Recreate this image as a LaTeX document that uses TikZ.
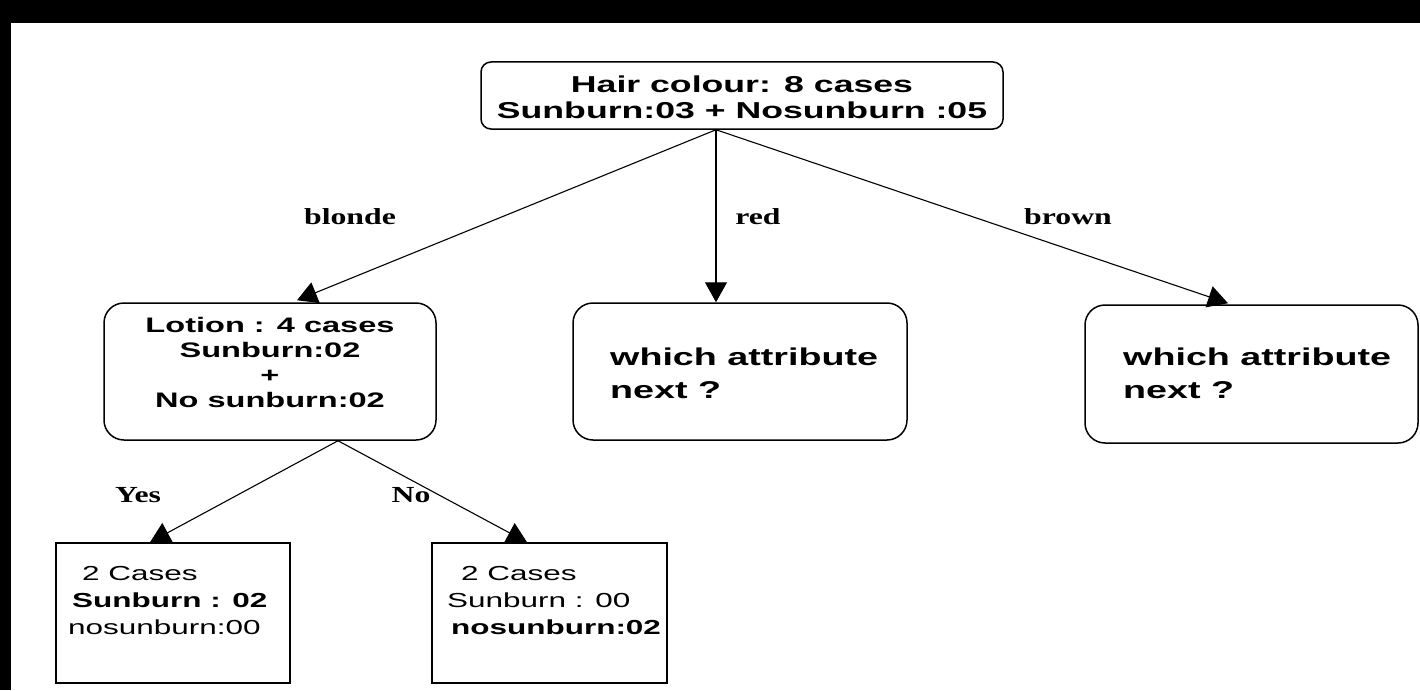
\documentclass[tikz,border=0pt]{standalone}
\usepackage{fontspec}
\setmainfont{Liberation Sans}
% wide sans for the box texts, wide serif for the branch labels
\newfontfamily\boxfont[FakeStretch=1.55]{Liberation Sans}
\newfontfamily\lblfont[FakeStretch=1.38]{Liberation Serif}
\usetikzlibrary{arrows.meta,calc}

\begin{document}
\begin{tikzpicture}[x=1pt,y=-1pt,
  roundbox/.style={draw, line width=1.5pt, rounded corners=#1, inner sep=0pt},
  leafbox/.style={draw, line width=1.5pt, inner sep=0pt},
  conn/.style={line width=1.1pt, -{Triangle[length=20pt,width=22pt]}},
  edgelbl/.style={font=\lblfont\bfseries\fontsize{23}{26}\selectfont, inner sep=0pt}
]
% canvas and black frame edges
\fill[white] (0,0) rectangle (1420,690);
\useasboundingbox (0,0) rectangle (1420,690);
\fill[black] (0,0) rectangle (1420,23);
\fill[black] (0,0) rectangle (11,690);

% boxes
\node[roundbox=10pt, minimum width=522pt, minimum height=67pt] (root) at (742,95.5) {};
\node[roundbox=20pt, minimum width=332pt, minimum height=137pt] (lotion) at (270,371.5) {};
\node[roundbox=20pt, minimum width=334pt, minimum height=137pt] (red) at (740,371.5) {};
\node[roundbox=20pt, minimum width=333pt, minimum height=138pt] (brown) at (1251.5,374) {};
\node[leafbox, minimum width=234pt, minimum height=140pt] (leafA) at (173,613) {};
\node[leafbox, minimum width=235pt, minimum height=140pt] (leafB) at (549.5,613) {};

% box texts
\node[inner sep=0pt, align=center, font=\boxfont\bfseries\fontsize{23}{26}\selectfont] (rootTxt) at (742,97)
  {Hair colour: 8 cases\\Sunburn:03 + Nosunburn :05};
\node[inner sep=0pt, align=center, font=\boxfont\bfseries\fontsize{21}{25}\selectfont] (lotionTxt) at (270,362)
  {Lotion : 4 cases\\Sunburn:02\\+\\No sunburn:02};
\node[inner sep=0pt, align=left, anchor=west, font=\boxfont\bfseries\fontsize{24.3}{33}\selectfont] (redTxt) at (610,373)
  {which attribute\\next ?};
\node[inner sep=0pt, align=left, anchor=west, font=\boxfont\bfseries\fontsize{24.3}{33}\selectfont] (brownTxt) at (1123,373)
  {which attribute\\next ?};
\node[inner sep=0pt, align=left, anchor=west, font=\boxfont\fontsize{20.3}{27}\selectfont] (leafATxt) at (68,601)
  {\hspace*{14pt}2 Cases\\\hspace*{4pt}{\bfseries Sunburn : 02}\\nosunburn:00};
\node[inner sep=0pt, align=left, anchor=west, font=\boxfont\fontsize{20.3}{27}\selectfont] (leafBTxt) at (447,601)
  {\hspace*{14pt}2 Cases\\Sunburn : 00\\\hspace*{4pt}{\bfseries nosunburn:02}};

% connector end points
\coordinate (fork) at ($(root.south)+(-26,0)$);
\coordinate (tipBlonde) at ($(lotion.north)+(27,-2)$);
\coordinate (tipRed) at ($(red.north)+(-24,0)$);
\coordinate (tipBrown) at ($(brown.north)+(-23.5,-1)$);
\coordinate (forkL) at ($(lotion.south)+(68,0)$);
\coordinate (tipYes) at ($(leafA.north)+(-23,0)$);
\coordinate (tipNo) at ($(leafB.north)+(-22.5,0)$);

% connectors
\draw[conn] (fork) -- (tipBlonde);
\draw[conn] (fork) -- (tipRed);
\draw[conn] (fork) -- (tipBrown);
\draw[conn] (forkL) -- (tipYes);
\draw[conn] (forkL) -- (tipNo);

% branch labels
\node[edgelbl] (lblBlonde) at (350,217) {blonde};
\node[edgelbl] (lblRed) at (758,217) {red};
\node[edgelbl] (lblBrown) at (1068,217) {brown};
\node[edgelbl] (lblYes) at (138,495) {Yes};
\node[edgelbl] (lblNo) at (411,495) {No};
\end{tikzpicture}
\end{document}
